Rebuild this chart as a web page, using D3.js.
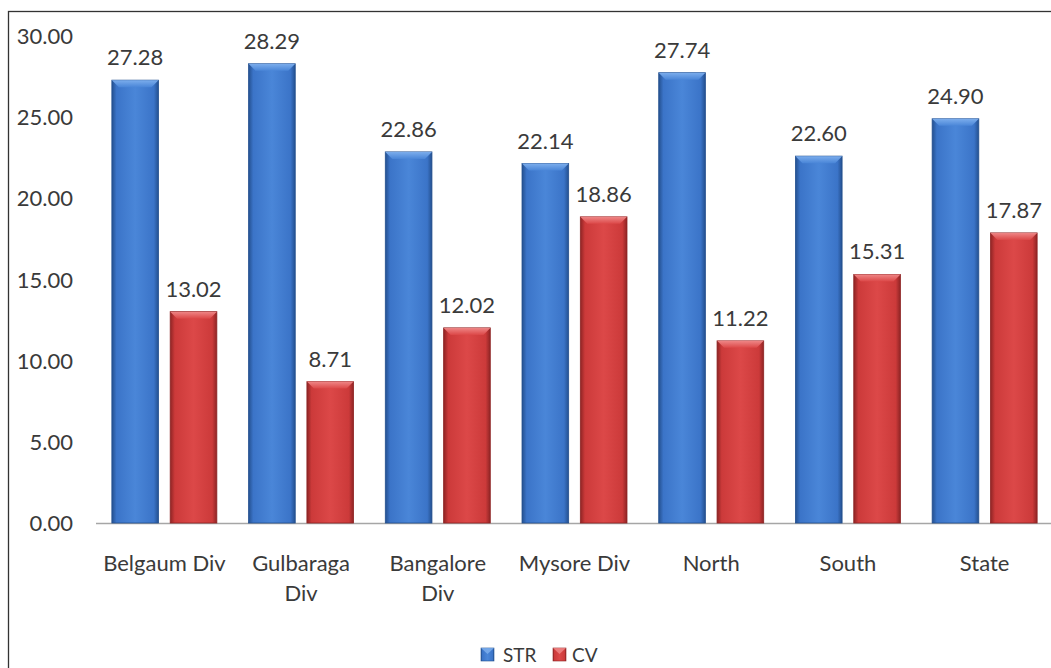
<!DOCTYPE html>
<html><head><meta charset="utf-8">
<script src="https://cdn.jsdelivr.net/npm/d3@7/dist/d3.min.js"></script>
<style>html,body{margin:0;padding:0;background:#fff;}svg{display:block;}</style>
</head><body>
<svg id="c" width="1051" height="668"></svg>
<script>
const categories = [["Belgaum Div"],["Gulbaraga","Div"],["Bangalore","Div"],["Mysore Div"],["North"],["South"],["State"]];
const seriesNames = ["STR","CV"];
const strValues = [27.28,28.29,22.86,22.14,27.74,22.60,24.90];
const cvValues = [13.02,8.71,12.02,18.86,11.22,15.31,17.87];
const yTicks = [0,5,10,15,20,25,30];

const svg = d3.select("#c");
const font = "Lato, 'Open Sans', sans-serif";
const textColor = "#3a3a3a";

// frame
svg.append("rect").attr("x",8.5).attr("y",11.5).attr("width",1100).attr("height",700)
  .attr("fill","none").attr("stroke","#333").attr("stroke-width",1.3);

const x0 = d3.scaleBand().domain(d3.range(categories.length)).range([96,1053]).paddingInner(0.232).paddingOuter(0.116);
const x1 = d3.scaleBand().domain(seriesNames).range([0,x0.bandwidth()]).paddingInner(0.2);
const y = d3.scaleLinear().domain([0,30]).range([523,36]);

const defs = svg.append("defs");
const palettes = {
  STR:{edge:"#24508f", mid:"#3b74c8", light:"#4a86d8", top:"#7fb0ee"},
  CV:{edge:"#8e2424", mid:"#cc3a3a", light:"#dc4848", top:"#f08a8a"}
};
Object.entries(palettes).forEach(([k,p])=>{
  const g = defs.append("linearGradient").attr("id","g"+k).attr("x1","0").attr("x2","1").attr("y1","0").attr("y2","0");
  [[0,p.edge],[0.1,p.mid],[0.5,p.light],[0.9,p.mid],[1,p.edge]].forEach(s=>g.append("stop").attr("offset",s[0]).attr("stop-color",s[1]));
  const t = defs.append("linearGradient").attr("id","t"+k).attr("x1","0").attr("x2","0").attr("y1","0").attr("y2","1");
  t.append("stop").attr("offset",0).attr("stop-color",p.top);
  t.append("stop").attr("offset",1).attr("stop-color",p.light);
});

// y axis labels
svg.append("g").selectAll("text").data(yTicks).join("text")
  .attr("x",73).attr("y",d=>y(d)+8).attr("text-anchor","end")
  .attr("font-family",font).attr("font-size",22).attr("fill",textColor)
  .text(d=>d.toFixed(2));

// baseline
svg.append("line").attr("x1",96).attr("x2",1051).attr("y1",y(0)+0.5).attr("y2",y(0)+0.5)
  .attr("stroke","#a6a6a6").attr("stroke-width",1.5);

const data = categories.map((c,i)=>({i, vals:[{s:"STR",v:strValues[i]},{s:"CV",v:cvValues[i]}]}));
const groups = svg.append("g").selectAll("g").data(data).join("g")
  .attr("transform",d=>`translate(${x0(d.i)},0)`);

const bars = groups.selectAll("g.bar").data(d=>d.vals).join("g").attr("class","bar");
bars.append("rect")
  .attr("x",d=>x1(d.s)).attr("y",d=>y(d.v)).attr("width",x1.bandwidth()).attr("height",d=>y(0)-y(d.v))
  .attr("fill",d=>`url(#g${d.s})`).attr("stroke",d=>palettes[d.s].edge).attr("stroke-width",0.8);
bars.append("path")
  .attr("d",d=>{
    const xa=x1(d.s), w=x1.bandwidth(), t=y(d.v), b=7;
    return `M${xa},${t}L${xa+w},${t}L${xa+w-b},${t+b}L${xa+b},${t+b}Z`;
  })
  .attr("fill",d=>`url(#t${d.s})`).attr("opacity",0.95);
bars.append("text")
  .attr("x",d=>x1(d.s)+x1.bandwidth()/2).attr("y",d=>y(d.v)-15).attr("text-anchor","middle")
  .attr("font-family",font).attr("font-size",22).attr("fill",textColor)
  .text(d=>d.v.toFixed(2));

// category labels
svg.append("g").selectAll("text").data(categories).join("text")
  .attr("x",(d,i)=>x0(i)+x0.bandwidth()/2).attr("y",571).attr("text-anchor","middle")
  .attr("font-family",font).attr("font-size",22).attr("fill",textColor)
  .each(function(d){
    const t=d3.select(this);
    d.forEach((line,j)=>t.append("tspan").attr("x",t.attr("x")).attr("dy",j===0?0:30).text(line));
  });

// legend
const legend = svg.append("g");
const legendItems = [{s:"STR",x:481,tx:503},{s:"CV",x:553,tx:572}];
legendItems.forEach(it=>{
  legend.append("rect").attr("x",it.x).attr("y",648).attr("width",13).attr("height",13)
    .attr("fill",`url(#g${it.s})`).attr("stroke",palettes[it.s].edge).attr("stroke-width",0.6);
  legend.append("path").attr("d",`M${it.x},648L${it.x+13},648L${it.x+6.5},654Z`).attr("fill",palettes[it.s].top).attr("opacity",0.8);
  legend.append("text").attr("x",it.tx).attr("y",662).attr("font-family",font).attr("font-size",19).attr("fill",textColor).text(it.s);
});
</script>
</body></html>
